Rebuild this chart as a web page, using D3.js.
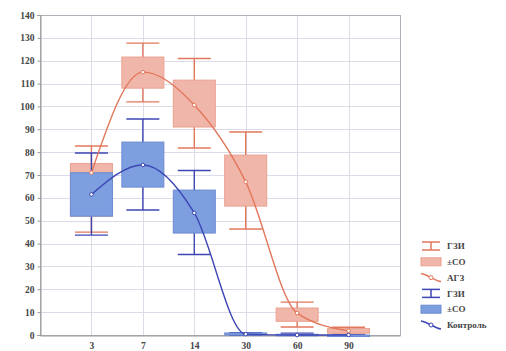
<!DOCTYPE html>
<html>
<head>
<meta charset="utf-8">
<script src="https://cdn.jsdelivr.net/npm/d3@7"></script>
<style>
  body { margin: 0; background: #fff; }
  svg { display: block; font-family: 'Liberation Serif', 'DejaVu Serif', serif; }
</style>
</head>
<body>
<div id="chart"></div>
<script>
const days = ['3', '7', '14', '30', '60', '90'];
const yTicks = [0, 10, 20, 30, 40, 50, 60, 70, 80, 90, 100, 110, 120, 130, 140];

// АГЗ group
const agzMean = [71, 115, 100.6, 67, 9.6, 1.8];
const agzBoxLo = [52, 108, 91, 56.4, 6, 0.8];
const agzBoxHi = [75, 121.6, 111.5, 78.7, 11.8, 2.8];
const agzWhLo = [45, 102, 81.8, 46.4, 3.5, 0.4];
const agzWhHi = [82.7, 127.7, 121, 88.8, 14.4, 3.4];

// Контроль group
const ctrlMean = [61.5, 74.4, 53.4, 0.4, 0, 0];
const ctrlBoxLo = [52, 64.7, 44.6, 0, 0, 0];
const ctrlBoxHi = [71, 84.4, 63.4, 0.9, 0.3, 0];
const ctrlWhLo = [43.7, 54.7, 35.2, 0, 0, 0];
const ctrlWhHi = [79.6, 94.5, 72, 1, 0.8, 0];

const legendLabels = ['ГЗИ', '±СО', 'АГЗ', 'ГЗИ', '±СО', 'Контроль'];

const width = 506, height = 351;
const margin = { left: 40, right: 106, top: 15, bottom: 16 };

const orange = { line: '#e2775b', box: '#f1b6aa', boxStroke: '#eaa08f' };
const blue = { line: '#3d46b3', box: '#7d9fe0', boxStroke: '#6d8bd2' };

const svg = d3.select('#chart').append('svg')
  .attr('width', width)
  .attr('height', height);

const x = d3.scalePoint()
  .domain(days)
  .range([margin.left, width - margin.right])
  .padding(1);

const y = d3.scaleLinear()
  .domain([0, 140])
  .range([height - margin.bottom, margin.top]);

// grid
svg.append('g')
  .attr('stroke', '#dcdce8')
  .attr('stroke-width', 1)
  .call(g => g.selectAll('.h').data(yTicks.slice(1)).join('line')
    .attr('x1', margin.left).attr('x2', width - margin.right)
    .attr('y1', d => Math.round(y(d)) + 0.5).attr('y2', d => Math.round(y(d)) + 0.5))
  .call(g => g.selectAll('.v').data(days).join('line')
    .attr('x1', d => Math.round(x(d)) + 0.5).attr('x2', d => Math.round(x(d)) + 0.5)
    .attr('y1', margin.top).attr('y2', height - margin.bottom));

// frame
svg.append('rect')
  .attr('x', margin.left + 0.5)
  .attr('y', margin.top + 0.5)
  .attr('width', width - margin.left - margin.right)
  .attr('height', height - margin.top - margin.bottom)
  .attr('fill', 'none')
  .attr('stroke', '#b0b0b8');

// axes
const yAxis = svg.append('g')
  .attr('transform', `translate(${margin.left + 0.5},0)`)
  .call(d3.axisLeft(y).tickValues(yTicks).tickSize(3).tickPadding(3));
const xAxis = svg.append('g')
  .attr('transform', `translate(0,${height - margin.bottom + 0.5})`)
  .call(d3.axisBottom(x).tickSize(0).tickPadding(7));
[yAxis, xAxis].forEach(a => {
  a.attr('font-family', null);
  a.select('.domain').attr('stroke', '#999');
  a.selectAll('line').attr('stroke', '#999');
  a.selectAll('text')
    .attr('fill', '#444')
    .style('font-size', '9.5px')
    .style('font-weight', 'bold');
});

const boxW = 42, capW = 33;

function drawBoxes(bLo, bHi, wLo, wHi, col) {
  const g = svg.append('g');
  days.forEach((d, i) => {
    const cx = x(d);
    g.append('line')
      .attr('x1', cx).attr('x2', cx)
      .attr('y1', y(wLo[i])).attr('y2', y(wHi[i]))
      .attr('stroke', col.line).attr('stroke-width', 1.4);
    [wLo[i], wHi[i]].forEach(v => {
      g.append('line')
        .attr('x1', cx - capW / 2).attr('x2', cx + capW / 2)
        .attr('y1', y(v)).attr('y2', y(v))
        .attr('stroke', col.line).attr('stroke-width', 1.4);
    });
    g.append('rect')
      .attr('x', cx - boxW / 2)
      .attr('y', y(bHi[i]))
      .attr('width', boxW)
      .attr('height', Math.max(1.5, y(bLo[i]) - y(bHi[i])))
      .attr('fill', col.box)
      .attr('stroke', col.boxStroke)
      .attr('stroke-width', 1);
  });
}

drawBoxes(agzBoxLo, agzBoxHi, agzWhLo, agzWhHi, orange);
drawBoxes(ctrlBoxLo, ctrlBoxHi, ctrlWhLo, ctrlWhHi, blue);

const line = d3.line()
  .x((d, i) => x(days[i]))
  .y(d => y(d))
  .curve(d3.curveMonotoneX);

function drawMean(mean, col) {
  svg.append('path')
    .attr('d', line(mean))
    .attr('fill', 'none')
    .attr('stroke', col.line)
    .attr('stroke-width', 1.4);
  svg.append('g').selectAll('circle').data(mean).join('circle')
    .attr('cx', (d, i) => x(days[i]))
    .attr('cy', d => y(d))
    .attr('r', 1.8)
    .attr('fill', '#fff')
    .attr('stroke', col.line)
    .attr('stroke-width', 1);
}

drawMean(agzMean, orange);
drawMean(ctrlMean, blue);

// legend
const legend = svg.append('g').attr('transform', 'translate(420,246)');
const rowH = 15.8;
legendLabels.forEach((label, i) => {
  const col = i < 3 ? orange : blue;
  const kind = i % 3;
  const row = legend.append('g').attr('transform', `translate(0,${i * rowH})`);
  if (kind === 0) {
    row.append('line').attr('x1', 2).attr('x2', 20).attr('y1', -4).attr('y2', -4)
      .attr('stroke', col.line).attr('stroke-width', 1.5);
    row.append('line').attr('x1', 2).attr('x2', 20).attr('y1', 4).attr('y2', 4)
      .attr('stroke', col.line).attr('stroke-width', 1.5);
    row.append('line').attr('x1', 11).attr('x2', 11).attr('y1', -4).attr('y2', 4)
      .attr('stroke', col.line).attr('stroke-width', 1.5);
  } else if (kind === 1) {
    row.append('rect').attr('x', 1).attr('y', -4).attr('width', 20).attr('height', 8)
      .attr('fill', col.box).attr('stroke', col.boxStroke);
  } else {
    row.append('path').attr('d', 'M1,-4 C8,-3 14,3 21,4')
      .attr('fill', 'none').attr('stroke', col.line).attr('stroke-width', 1.5);
    row.append('circle').attr('cx', 11).attr('cy', 0).attr('r', 2)
      .attr('fill', '#fff').attr('stroke', col.line);
  }
  row.append('text')
    .attr('x', 27).attr('y', 0).attr('dy', '0.35em')
    .attr('fill', '#444')
    .style('font-size', '9px')
    .style('font-weight', 'bold')
    .text(label);
});
</script>
</body>
</html>
